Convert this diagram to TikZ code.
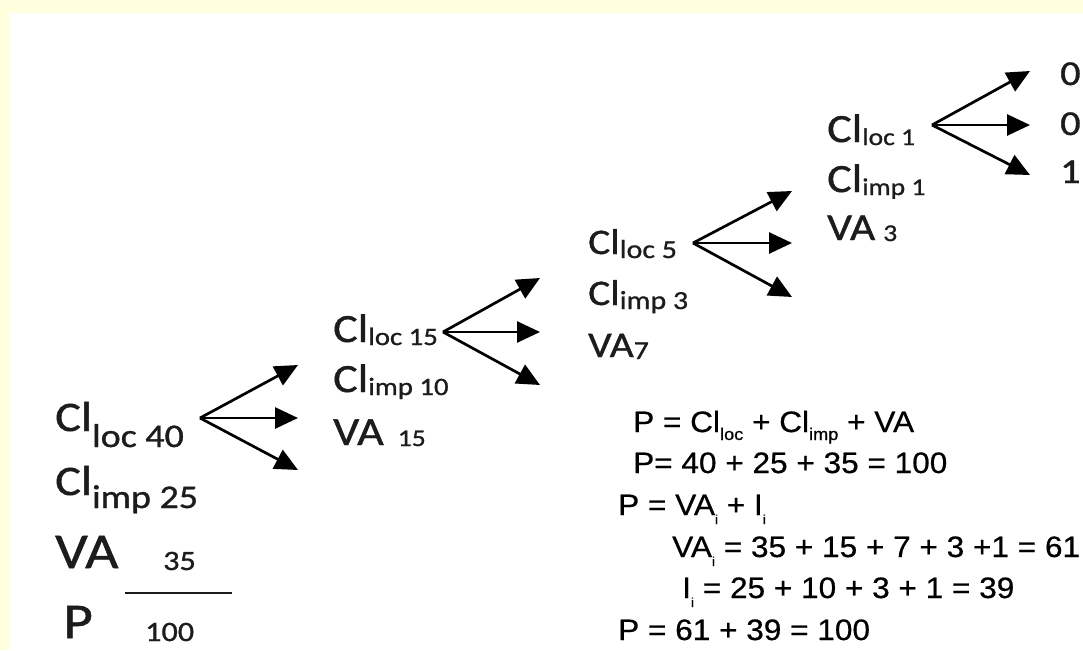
\documentclass[tikz,border=0pt]{standalone}
\usepackage{fontspec}
\usetikzlibrary{arrows.meta}
\newfontfamily\calib[FakeStretch=1.15,FakeBold=1.0]{Carlito}
\newfontfamily\arial[FakeStretch=1.07,FakeBold=0.6]{Liberation Sans}
\definecolor{pageyellow}{RGB}{255,255,221}
\definecolor{ink}{RGB}{28,28,28}

% lowered, smaller text: #1 drop, #2 size, #3 text
\newcommand\lowtxt[3]{\raisebox{-#1}{\fontsize{#2}{#2}\selectfont #3}}
% subscripts of the formula block
\newcommand\fsub[1]{\lowtxt{8pt}{17pt}{#1}}
\newcommand\isub{\lowtxt{9pt}{13pt}{i}}

\tikzset{
  lbl/.style={anchor=base west, inner sep=0pt, text=ink},
  sz/.style={font=\calib\fontsize{#1}{#1}\selectfont},
  eqn/.style={anchor=base west, inner sep=0pt, text=black,
              font=\arial\fontsize{29.5pt}{29.5pt}\selectfont},
  fork/.style={line width=2.7pt, draw=black,
               -{Triangle[length=23pt,width=21pt]}},
}

\begin{document}
\begin{tikzpicture}[x=1pt,y=-1pt]
  % page
  \path[use as bounding box, fill=pageyellow] (0,0) rectangle (1083,650);
  \fill[white] (9,13) rectangle (1083,650);

  % ---- level 1
  \node[lbl, sz=42pt] (l1loc) at (55,431) {Cl\lowtxt{16pt}{33pt}{loc 40}};
  \node[lbl, sz=42pt] (l1imp) at (55,495) {Cl\lowtxt{13pt}{33pt}{imp 25}};
  \node[lbl, sz=50pt] (l1va)  at (55,568) {VA};
  \node[lbl, sz=28pt] (l1vaval) at (163,570) {35};
  \node[lbl, sz=50pt] (l1p)   at (63,638) {P};
  \node[lbl, sz=28pt] (l1pval) at (145,641) {100};
  \coordinate (barL) at (125,593);
  \coordinate (barR) at (232,593);
  \draw[line width=2.2pt, draw=ink] (barL) -- (barR);

  \coordinate (f1) at (200,418);
  \coordinate (f1a) at (298,365);
  \coordinate (f1b) at (298,418);
  \coordinate (f1c) at (298,470);
  \foreach \t in {f1a,f1b,f1c} \draw[fork] (f1) -- (\t);

  % ---- level 2
  \node[lbl, sz=40pt] (l2loc) at (333,342) {Cl\lowtxt{3pt}{25pt}{loc 15}};
  \node[lbl, sz=40pt] (l2imp) at (333,392) {Cl\lowtxt{3pt}{25pt}{imp 10}};
  \node[lbl, sz=40pt] (l2va)  at (333,445) {VA\hspace{14pt}\lowtxt{1pt}{24pt}{15}};

  \coordinate (f2) at (443,332);
  \coordinate (f2a) at (540,278);
  \coordinate (f2b) at (540,332);
  \coordinate (f2c) at (540,385);
  \foreach \t in {f2a,f2b,f2c} \draw[fork] (f2) -- (\t);

  % ---- level 3
  \node[lbl, sz=36pt] (l3loc) at (588,254) {Cl\lowtxt{4pt}{26pt}{loc 5}};
  \node[lbl, sz=36pt] (l3imp) at (588,305) {Cl\lowtxt{4pt}{26pt}{imp 3}};
  \node[lbl, sz=36pt] (l3va)  at (588,357) {VA\lowtxt{2pt}{26pt}{7}};

  \coordinate (f3) at (693,243);
  \coordinate (f3a) at (792,191);
  \coordinate (f3b) at (792,243);
  \coordinate (f3c) at (792,297);
  \foreach \t in {f3a,f3b,f3c} \draw[fork] (f3) -- (\t);

  % ---- level 4
  \node[lbl, sz=40pt] (l4loc) at (827,142) {Cl\lowtxt{3pt}{24pt}{loc 1}};
  \node[lbl, sz=40pt] (l4imp) at (827,192) {Cl\lowtxt{3pt}{24pt}{imp 1}};
  \node[lbl, sz=38pt] (l4va)  at (827,240) {VA\hspace{8pt}\lowtxt{1pt}{24pt}{3}};

  \coordinate (f4) at (932,125);
  \coordinate (f4a) at (1030,71);
  \coordinate (f4b) at (1030,125);
  \coordinate (f4c) at (1030,175);
  \foreach \t in {f4a,f4b,f4c} \draw[fork] (f4) -- (\t);

  \node[lbl, sz=35pt] (o1) at (1060,85) {0};
  \node[lbl, sz=35pt] (o2) at (1060,135) {0};
  \node[lbl, sz=35pt] (o3) at (1060,183) {1};

  % ---- formulas
  \node[eqn] (e1) at (633,432) {P = Cl\fsub{loc} + Cl\fsub{imp} + VA};
  \node[eqn] (e2) at (633,473) {P= 40 + 25 + 35 = 100};
  \node[eqn] (e3) at (618,515) {P = VA\isub{} + I\isub};
  \node[eqn] (e4) at (672,557) {VA\isub{} = 35 + 15 + 7 + 3 +1 = 61};
  \node[eqn] (e5) at (682,598) {I\isub{} = 25 + 10 + 3 + 1 = 39};
  \node[eqn] (e6) at (618,640) {P = 61 + 39 = 100};
\end{tikzpicture}
\end{document}
